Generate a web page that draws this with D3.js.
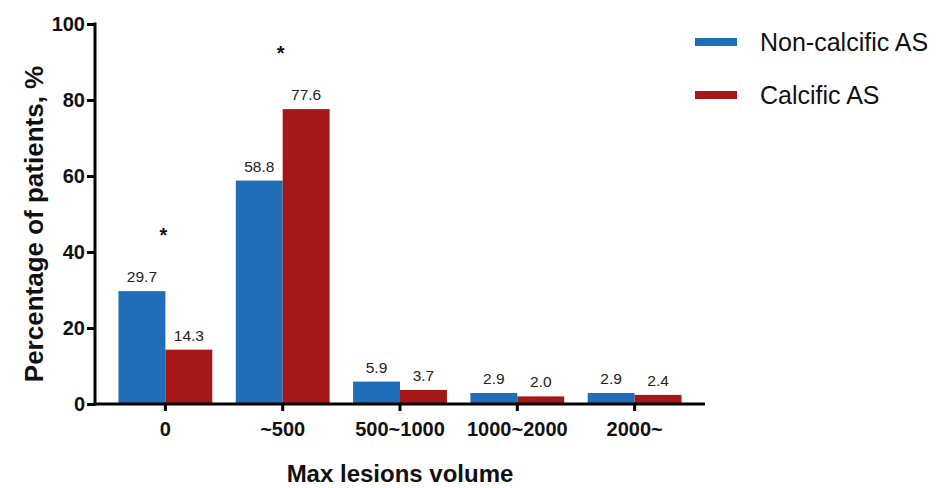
<!DOCTYPE html>
<html>
<head>
<meta charset="utf-8">
<script src="https://cdn.jsdelivr.net/npm/d3@7"></script>
<style>
  body { margin: 0; background: #fff; }
  svg { font-family: "Liberation Sans", Arial, Helvetica, sans-serif; }
</style>
</head>
<body>
<div id="chart"></div>
<script>
var categories = ["0", "~500", "500~1000", "1000~2000", "2000~"];
var seriesNames = ["Non-calcific AS", "Calcific AS"];
var nonCalcific = [29.7, 58.8, 5.9, 2.9, 2.9];
var calcific = [14.3, 77.6, 3.7, 2.0, 2.4];
var significant = ["0", "~500"];
var yTicks = [0, 20, 40, 60, 80, 100];

var colors = ["#1f6eb7", "#a61818"];

var width = 937, height = 488;

var svg = d3.select("#chart").append("svg")
    .attr("width", width)
    .attr("height", height);

var x = d3.scaleBand()
    .domain(categories)
    .range([95, 705])
    .padding(0.2);

var xSub = d3.scaleBand()
    .domain(seriesNames)
    .range([0, x.bandwidth()]);

var y = d3.scaleLinear()
    .domain([0, 100])
    .range([404, 24]);

var color = d3.scaleOrdinal()
    .domain(seriesNames)
    .range(colors);

var rows = categories.map(function(c, i) {
    return {cat: c, values: [
        {name: seriesNames[0], value: nonCalcific[i]},
        {name: seriesNames[1], value: calcific[i]}
    ]};
});

var groups = svg.selectAll(".group")
    .data(rows)
    .enter().append("g")
    .attr("class", "group")
    .attr("transform", function(d) { return "translate(" + x(d.cat) + ",0)"; });

groups.selectAll("rect")
    .data(function(d) { return d.values; })
    .enter().append("rect")
    .attr("x", function(d) { return xSub(d.name); })
    .attr("y", function(d) { return y(d.value); })
    .attr("width", xSub.bandwidth())
    .attr("height", function(d) { return y(0) - y(d.value); })
    .attr("fill", function(d) { return color(d.name); });

groups.selectAll(".val")
    .data(function(d) { return d.values; })
    .enter().append("text")
    .attr("class", "val")
    .attr("x", function(d) { return xSub(d.name) + xSub.bandwidth() / 2; })
    .attr("y", function(d) { return y(d.value) - 9; })
    .attr("text-anchor", "middle")
    .style("font-size", "15.5px")
    .style("fill", "#222")
    .text(function(d) { return d.value.toFixed(1); });

// significance stars
groups.filter(function(d) { return significant.indexOf(d.cat) >= 0; })
    .append("text")
    .attr("x", x.bandwidth() / 2 - 2)
    .attr("y", function(d) { return y(d3.max(d.values, function(v) { return v.value; })) - 49; })
    .attr("text-anchor", "middle")
    .style("font-size", "20px")
    .style("font-weight", "bold")
    .style("fill", "#111")
    .text("*");

//********** AXES ************
var xAxis = d3.axisBottom(x)
    .tickSize(7)
    .tickSizeOuter(0)
    .tickPadding(11);

var yAxis = d3.axisLeft(y)
    .tickValues(yTicks)
    .tickSize(8)
    .tickSizeOuter(0)
    .tickPadding(2);

svg.append("g")
    .attr("class", "x axis")
    .attr("transform", "translate(0," + y(0) + ")")
    .call(xAxis);

svg.append("g")
    .attr("class", "y axis")
    .attr("transform", "translate(95,0)")
    .call(yAxis);

svg.selectAll(".axis path, .axis line")
    .attr("stroke", "#000")
    .attr("stroke-width", 3);

svg.selectAll(".y.axis path").attr("d", "M0," + (y(100) - 1.5) + "V" + (y(0) + 1.5));
svg.selectAll(".x.axis path").attr("d", "M95,0H705");

svg.selectAll(".axis text")
    .style("font-family", "'Liberation Sans', Arial, sans-serif")
    .style("font-size", "20px")
    .style("font-weight", "bold")
    .style("fill", "#111");

// axis titles
svg.append("text")
    .attr("x", 400)
    .attr("y", 482)
    .attr("text-anchor", "middle")
    .style("font-size", "24px")
    .style("font-weight", "bold")
    .style("fill", "#111")
    .text("Max lesions volume");

svg.append("text")
    .attr("transform", "translate(43,224) rotate(-90)")
    .attr("text-anchor", "middle")
    .style("font-size", "26px")
    .style("font-weight", "bold")
    .style("fill", "#111")
    .text("Percentage of patients, %");

// legend
var legend = svg.selectAll(".legend")
    .data(seriesNames)
    .enter().append("g")
    .attr("class", "legend")
    .attr("transform", function(d, i) { return "translate(695," + (42 + i * 53) + ")"; });

legend.append("rect")
    .attr("x", 0)
    .attr("y", -4)
    .attr("width", 42)
    .attr("height", 8)
    .attr("fill", color);

legend.append("text")
    .attr("x", 65)
    .attr("y", 0)
    .attr("dy", "0.35em")
    .style("font-size", "25px")
    .style("fill", "#111")
    .text(function(d) { return d; });
</script>
</body>
</html>
